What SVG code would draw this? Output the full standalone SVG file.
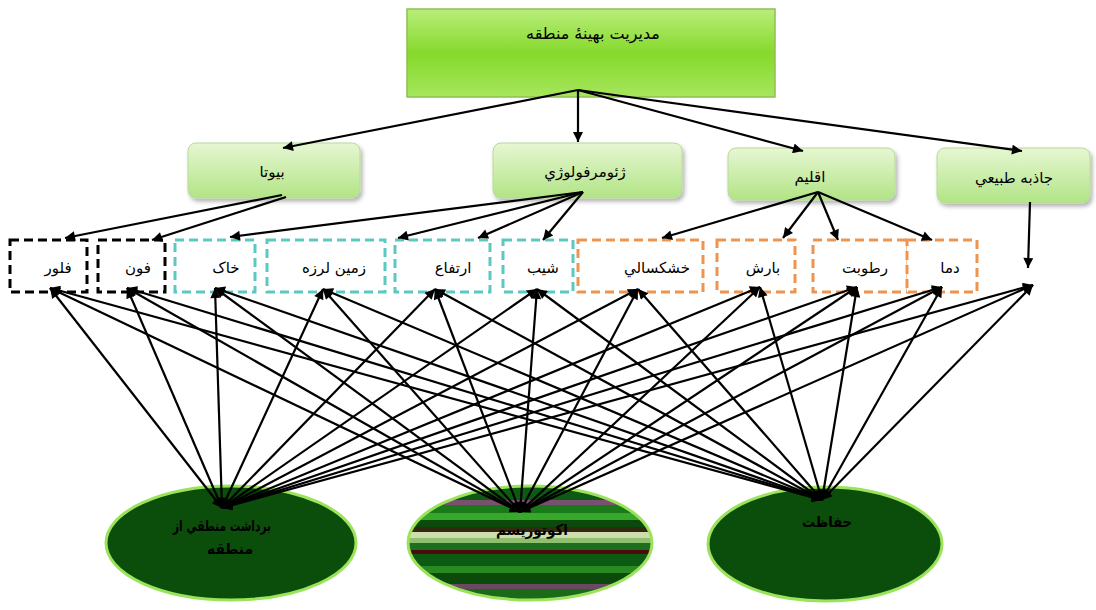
<svg xmlns="http://www.w3.org/2000/svg" width="1096" height="610" viewBox="0 0 1096 610">
<defs>
<linearGradient id="gTop" x1="0" y1="0" x2="0" y2="1">
<stop offset="0" stop-color="#b9ee7a"/><stop offset="0.5" stop-color="#86d92c"/><stop offset="1" stop-color="#a6e65c"/>
</linearGradient>
<linearGradient id="gMid" x1="0" y1="0" x2="0" y2="1">
<stop offset="0" stop-color="#e6f7d2"/><stop offset="1" stop-color="#b2e486"/>
</linearGradient>
<linearGradient id="gStripe" x1="0" y1="0" x2="0" y2="1">
<stop offset="0" stop-color="#0d5a12"/><stop offset="0.12" stop-color="#0d5a12"/>
<stop offset="0.12" stop-color="#7a5070"/><stop offset="0.17" stop-color="#7a5070"/>
<stop offset="0.17" stop-color="#1a7a1a"/><stop offset="0.24" stop-color="#1a7a1a"/>
<stop offset="0.24" stop-color="#36a82a"/><stop offset="0.3" stop-color="#36a82a"/>
<stop offset="0.3" stop-color="#0b4a0b"/><stop offset="0.36" stop-color="#0b4a0b"/>
<stop offset="0.36" stop-color="#2f2a10"/><stop offset="0.4" stop-color="#2f2a10"/>
<stop offset="0.4" stop-color="#cfdcae"/><stop offset="0.46" stop-color="#cfdcae"/>
<stop offset="0.46" stop-color="#8fc070"/><stop offset="0.5" stop-color="#8fc070"/>
<stop offset="0.5" stop-color="#1f6e1f"/><stop offset="0.56" stop-color="#1f6e1f"/>
<stop offset="0.56" stop-color="#4a0d0d"/><stop offset="0.6" stop-color="#4a0d0d"/>
<stop offset="0.6" stop-color="#0d5a12"/><stop offset="0.7" stop-color="#0d5a12"/>
<stop offset="0.7" stop-color="#2a8a22"/><stop offset="0.76" stop-color="#2a8a22"/>
<stop offset="0.76" stop-color="#0b4a0b"/><stop offset="0.86" stop-color="#0b4a0b"/>
<stop offset="0.86" stop-color="#6a4a60"/><stop offset="0.9" stop-color="#6a4a60"/>
<stop offset="0.9" stop-color="#1a6a1a"/><stop offset="1" stop-color="#1a6a1a"/>
</linearGradient>
<filter id="sh" x="-10%" y="-10%" width="130%" height="140%">
<feDropShadow dx="2" dy="3" stdDeviation="2" flood-color="#000" flood-opacity="0.3"/>
</filter>
<marker id="ah" viewBox="0 0 10 10" refX="10" refY="5" markerWidth="14" markerHeight="10" markerUnits="userSpaceOnUse" orient="auto-start-reverse">
<path d="M0,0 L10,5 L0,10 z" fill="#000"/>
</marker>
<style>
text{font-family:"DejaVu Sans","Noto Sans",sans-serif;fill:#000;text-anchor:middle;dominant-baseline:central}
.t{font-size:15px}
.top{fill:url(#gTop);stroke:#8fbf55;stroke-width:1.5}
.mid{fill:url(#gMid);stroke:#b9d99a;stroke-width:1;filter:url(#sh)}
.db{fill:#fff;stroke:#000;stroke-width:3;stroke-dasharray:9,5}
.dt{fill:#fff;stroke:#5cc8c2;stroke-width:3;stroke-dasharray:9,5}
.do{fill:#fff;stroke:#ee9450;stroke-width:3;stroke-dasharray:9,5}
.el{stroke:#9be35a;stroke-width:3}
.c line{stroke:#000;stroke-width:2.2}
.c .a{marker-end:url(#ah)}
.c .b{marker-start:url(#ah);marker-end:url(#ah)}
.et{font-size:15px;font-weight:bold}
</style>
</defs>

<g id="ellipse-bardasht">
<ellipse cx="231" cy="543" rx="125" ry="57" fill="#0b4d0b" class="el"/>
<text class="et" x="222" y="526" textLength="98" lengthAdjust="spacingAndGlyphs">برداشت منطقي از</text>
<text class="et" x="230" y="549" textLength="46" lengthAdjust="spacingAndGlyphs">منطقه</text>
</g>
<g id="ellipse-ecotourism">
<ellipse cx="530" cy="543" rx="122" ry="57" fill="url(#gStripe)" class="el"/>
<text class="et" x="532" y="530" textLength="72" lengthAdjust="spacingAndGlyphs">اکوتوريسم</text>
</g>
<g id="ellipse-hefazat">
<ellipse cx="825" cy="544" rx="117" ry="57" fill="#0b4d0b" class="el"/>
<text class="et" x="827" y="522" textLength="50" lengthAdjust="spacingAndGlyphs">حفاظت</text>
</g>

<g id="top">
<rect class="top" x="407" y="9" width="368" height="88"/>
<text x="593" y="33" style="font-size:16px">مديريت بهينهٔ منطقه</text>
</g>

<g id="biota"><rect class="mid" x="188" y="143" width="172" height="55" rx="8"/><text class="t" x="272" y="172">بيوتا</text></g>
<g id="geomorph"><rect class="mid" x="493" y="143" width="189" height="55" rx="8"/><text class="t" x="585" y="172">ژئومرفولوژي</text></g>
<g id="eqlim"><rect class="mid" x="728" y="148" width="167" height="52" rx="8"/><text class="t" x="810" y="177">اقليم</text></g>
<g id="jazebeh"><rect class="mid" x="937" y="148" width="153" height="55" rx="8"/><text class="t" x="1014" y="178">جاذبه طبيعي</text></g>

<g id="flor"><rect class="db" x="10" y="240" width="77" height="52"/><text class="t" x="58" y="268">فلور</text></g>
<g id="fon"><rect class="db" x="98" y="240" width="67" height="52"/><text class="t" x="138" y="268">فون</text></g>
<g id="khak"><rect class="dt" x="175" y="240" width="80" height="52"/><text class="t" x="226" y="268">خاک</text></g>
<g id="zaminlarze"><rect class="dt" x="267" y="240" width="118" height="52"/><text class="t" x="334" y="268">زمين لرزه</text></g>
<g id="ertefa"><rect class="dt" x="395" y="240" width="95" height="52"/><text class="t" x="453" y="268">ارتفاع</text></g>
<g id="shib"><rect class="dt" x="503" y="240" width="70" height="52"/><text class="t" x="543" y="268">شيب</text></g>
<g id="khoshksali"><rect class="do" x="578" y="240" width="125" height="52"/><text class="t" x="657" y="268">خشکسالي</text></g>
<g id="baresh"><rect class="do" x="717" y="240" width="78" height="52"/><text class="t" x="763" y="268">بارش</text></g>
<g id="rotubat"><rect class="do" x="813" y="240" width="95" height="52"/><text class="t" x="865" y="268">رطوبت</text></g>
<g id="dama"><rect class="do" x="907" y="240" width="70" height="52"/><text class="t" x="950" y="268">دما</text></g>

<g id="connectors" class="c">
<line class="a" x1="578" y1="90" x2="283" y2="148"/>
<line class="a" x1="578" y1="90" x2="578" y2="142"/>
<line class="a" x1="578" y1="90" x2="803" y2="151"/>
<line class="a" x1="578" y1="90" x2="1022" y2="151"/>

<line class="a" x1="282" y1="195" x2="65" y2="238"/>
<line class="a" x1="286" y1="197" x2="152" y2="240"/>
<line class="a" x1="583" y1="192" x2="230" y2="237"/>
<line class="a" x1="583" y1="192" x2="398" y2="238"/>
<line class="a" x1="583" y1="192" x2="478" y2="238"/>
<line class="a" x1="583" y1="192" x2="543" y2="240"/>
<line class="a" x1="818" y1="192" x2="662" y2="238"/>
<line class="a" x1="818" y1="192" x2="783" y2="238"/>
<line class="a" x1="818" y1="192" x2="838" y2="240"/>
<line class="a" x1="818" y1="192" x2="932" y2="240"/>
<line class="a" x1="1030" y1="202" x2="1028" y2="268"/>

<line class="b" x1="222" y1="508" x2="50" y2="288"/>
<line class="b" x1="222" y1="508" x2="127" y2="288"/>
<line class="b" x1="222" y1="508" x2="215" y2="288"/>
<line class="b" x1="222" y1="508" x2="323" y2="289"/>
<line class="b" x1="222" y1="508" x2="435" y2="289"/>
<line class="b" x1="222" y1="508" x2="537" y2="289"/>
<line class="b" x1="222" y1="508" x2="638" y2="289"/>
<line class="b" x1="222" y1="508" x2="760" y2="287"/>
<line class="b" x1="222" y1="508" x2="857" y2="287"/>
<line class="b" x1="222" y1="508" x2="942" y2="287"/>
<line class="b" x1="222" y1="508" x2="1033" y2="285"/>

<line class="b" x1="520" y1="512" x2="50" y2="288"/>
<line class="b" x1="520" y1="512" x2="127" y2="288"/>
<line class="b" x1="520" y1="512" x2="215" y2="288"/>
<line class="b" x1="520" y1="512" x2="323" y2="289"/>
<line class="b" x1="520" y1="512" x2="435" y2="289"/>
<line class="b" x1="520" y1="512" x2="537" y2="289"/>
<line class="b" x1="520" y1="512" x2="638" y2="289"/>
<line class="b" x1="520" y1="512" x2="760" y2="287"/>
<line class="b" x1="520" y1="512" x2="857" y2="287"/>
<line class="b" x1="520" y1="512" x2="942" y2="287"/>
<line class="b" x1="520" y1="512" x2="1033" y2="285"/>

<line class="b" x1="822" y1="500" x2="50" y2="288"/>
<line class="b" x1="822" y1="500" x2="127" y2="288"/>
<line class="b" x1="822" y1="500" x2="215" y2="288"/>
<line class="b" x1="822" y1="500" x2="323" y2="289"/>
<line class="b" x1="822" y1="500" x2="435" y2="289"/>
<line class="b" x1="822" y1="500" x2="537" y2="289"/>
<line class="b" x1="822" y1="500" x2="638" y2="289"/>
<line class="b" x1="822" y1="500" x2="760" y2="287"/>
<line class="b" x1="822" y1="500" x2="857" y2="287"/>
<line class="b" x1="822" y1="500" x2="942" y2="287"/>
<line class="b" x1="822" y1="500" x2="1033" y2="285"/>
</g>
</svg>
